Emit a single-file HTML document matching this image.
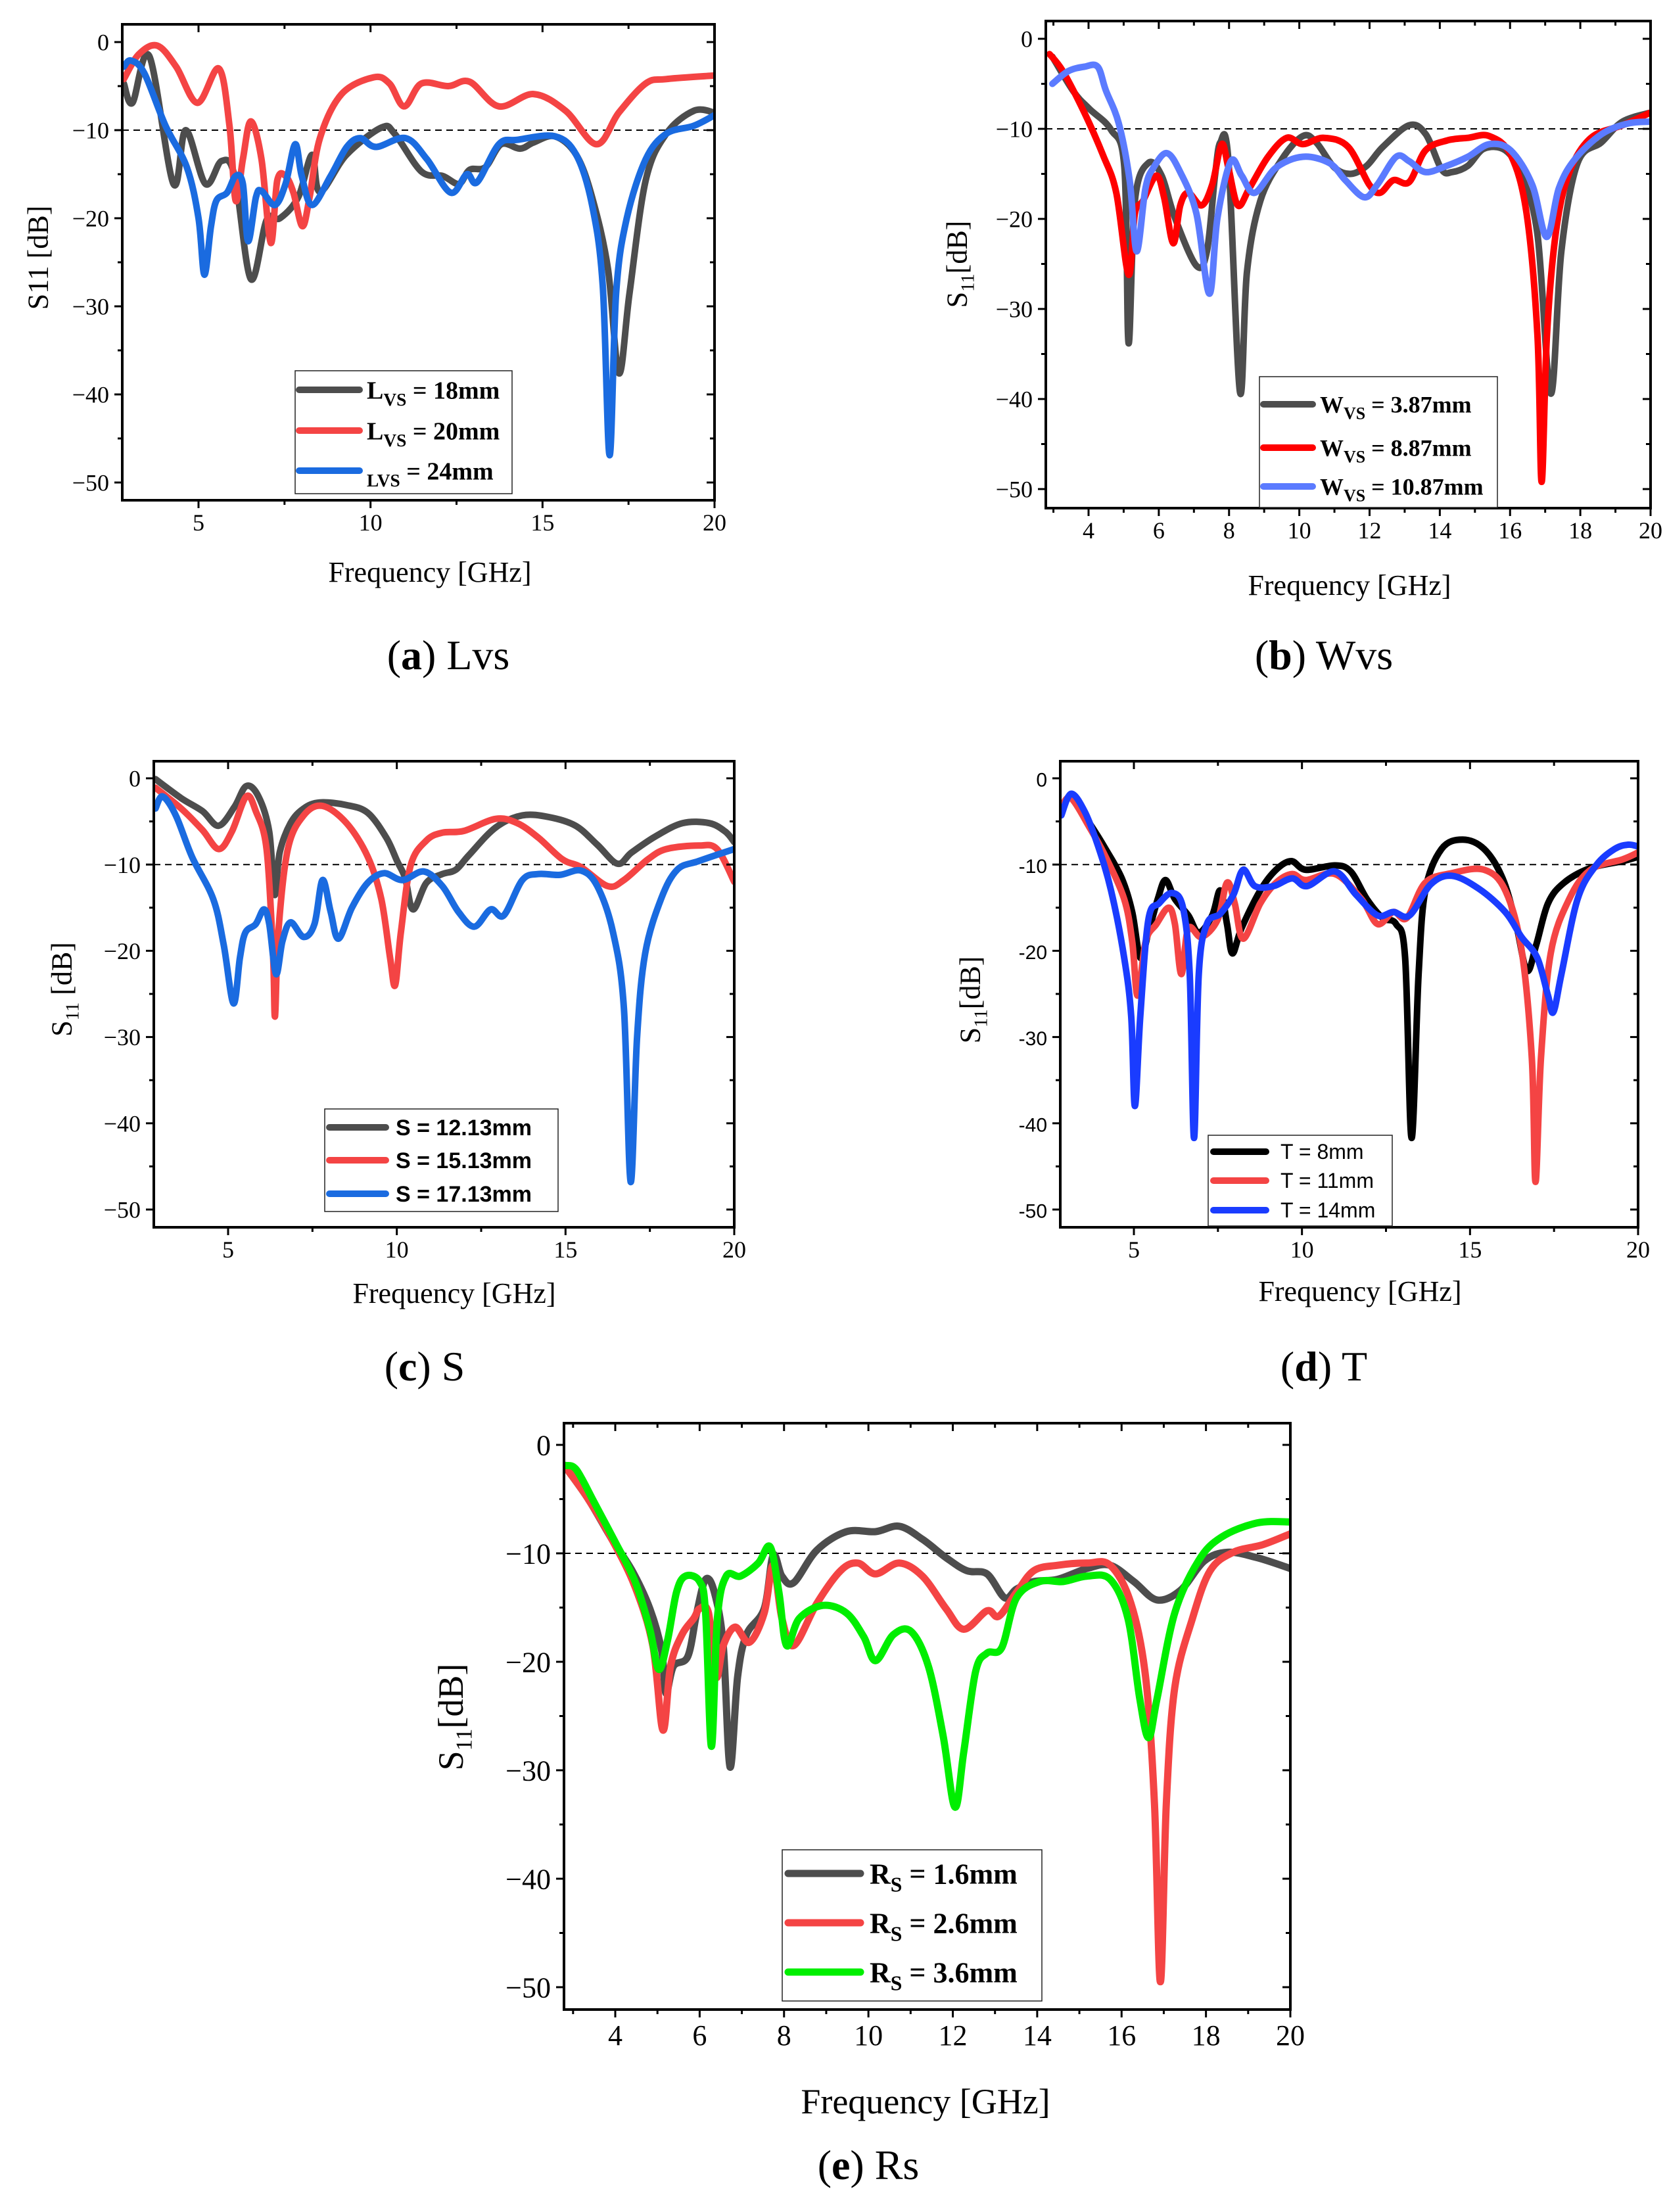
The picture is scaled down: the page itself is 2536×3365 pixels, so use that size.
<!DOCTYPE html>
<html><head><meta charset="utf-8"><style>
html,body{margin:0;padding:0;background:#fff}
svg{display:block}
</style></head><body>
<svg id="fig" xmlns="http://www.w3.org/2000/svg" width="2536" height="3365" viewBox="0 0 2536 3365">
<rect x="0" y="0" width="2536" height="3365" fill="#fff"/>
</svg>
<script>
// ---------- data (frequency GHz, S11 dB) ----------
const a_lvs18=[[2.83,-4.7],[3.08,-6.9],[3.57,-1.6],[4.27,-16.1],[4.63,-10],[5.2,-16.1],[5.67,-13.5],[6.05,-15.2],[6.52,-26.9],[6.98,-20.2],[7.37,-20],[7.9,-17.6],[8.3,-12.8],[8.53,-17],[9.3,-12.8],[10.32,-9.7],[10.7,-10.4],[11.48,-14.7],[12.1,-15.2],[12.57,-16.1],[12.88,-14.5],[13.34,-14.2],[13.8,-11.6],[14.35,-12.1],[14.74,-11.4],[15.36,-10.7],[15.98,-12.8],[16.44,-17.6],[16.9,-25.7],[17.22,-37.6],[17.53,-28.5],[18,-15.7],[18.6,-10.4],[19.4,-7.8],[20,-8]];
const a_lvs20=[[2.83,-4.2],[3.26,-1.4],[3.8,-0.4],[4.35,-2.8],[4.97,-6.9],[5.59,-3],[5.9,-9.5],[6.08,-18],[6.29,-13.3],[6.52,-9],[6.83,-13.3],[7.1,-22.8],[7.29,-15.7],[7.53,-15.2],[7.76,-17.1],[8.02,-20.9],[8.23,-17.6],[8.53,-10.9],[9.16,-5.9],[10.09,-4],[10.55,-4.7],[10.98,-7.3],[11.48,-4.7],[12.26,-5],[12.88,-4.5],[13.73,-7.3],[14.74,-5.9],[15.67,-7.8],[16.57,-11.6],[17.22,-8],[18,-4.7],[18.6,-4.2],[20,-3.8]];
const a_lvs24=[[2.83,-2.8],[3.03,-2.1],[3.42,-3.5],[4.04,-9.5],[4.66,-14.2],[5,-20],[5.17,-26.4],[5.36,-21],[5.52,-18],[5.83,-17.1],[6.08,-15.2],[6.29,-16.1],[6.44,-22.6],[6.67,-17.6],[6.83,-16.9],[7.22,-18.5],[7.53,-16.1],[7.81,-11.6],[8,-15.2],[8.3,-18.5],[8.84,-15.2],[9.31,-11.9],[9.7,-10.9],[10.16,-11.9],[11.02,-10.9],[11.64,-13.3],[12.33,-17.1],[12.8,-15],[13.1,-15.9],[13.73,-11.6],[14.27,-11.1],[15.36,-10.7],[15.98,-12.8],[16.44,-18.5],[16.75,-27.6],[16.95,-46.9],[17.14,-28.5],[17.45,-20],[18,-13.3],[18.6,-10.4],[19.4,-9.5],[20,-8.3]];
const b_wvs387=[[2.97,-2],[3.58,-5.9],[4.03,-7.8],[4.64,-10.1],[5.02,-14.3],[5.14,-33.8],[5.32,-18],[5.7,-13.8],[6.08,-15.2],[6.46,-19.9],[7.07,-25.2],[7.37,-23.6],[7.6,-15.2],[7.75,-11.5],[7.98,-13.4],[8.31,-39.2],[8.51,-25.9],[8.89,-18],[9.5,-13.4],[10.1,-10.8],[10.48,-11.5],[11.0,-14.3],[11.47,-15],[11.92,-14.1],[12.38,-12],[13.13,-9.6],[13.6,-10.6],[14.05,-14.5],[14.35,-14.8],[14.8,-14.1],[15.26,-12.2],[15.87,-12.4],[16.32,-15.2],[16.78,-21.7],[17.16,-39.4],[17.46,-23.6],[17.92,-13.8],[18.6,-11.5],[19.2,-9.2],[20,-8.2]];
const b_wvs887=[[2.89,-1.7],[3.27,-3.6],[3.88,-8.2],[4.41,-12.9],[4.79,-17.1],[5.14,-26.2],[5.32,-19.4],[5.55,-18],[5.93,-15.2],[6.15,-17.6],[6.41,-22.7],[6.61,-18.5],[6.84,-17.1],[7.22,-18.5],[7.52,-16.2],[7.79,-11.7],[7.98,-14.3],[8.25,-18.5],[8.58,-16.6],[9.11,-13.1],[9.64,-11],[10.1,-11.7],[10.7,-11],[11.39,-12],[11.99,-16.2],[12.3,-17.1],[12.68,-15.7],[13.13,-15.9],[13.59,-12.4],[14.2,-11.3],[14.8,-11],[15.41,-10.8],[16.02,-12.9],[16.47,-19.4],[16.78,-32.9],[16.9,-49.2],[17.05,-32.9],[17.31,-21.3],[17.69,-14.8],[18.3,-11],[19.2,-9.6],[20,-8.2]];
const b_wvs1087=[[2.97,-5],[3.42,-3.6],[3.88,-3.1],[4.26,-3.1],[4.49,-5.7],[4.86,-9.4],[5.17,-15.7],[5.37,-23.6],[5.62,-16.6],[5.85,-14.3],[6.23,-12.7],[6.61,-14.8],[7.07,-19.4],[7.44,-28.3],[7.67,-19.9],[8.05,-13.6],[8.36,-15.2],[8.73,-17.1],[9.34,-14.3],[10.1,-13.1],[10.86,-13.8],[11.31,-15.7],[11.85,-17.6],[12.22,-16.2],[12.76,-13.1],[13.13,-13.6],[13.59,-14.8],[14.2,-14.1],[14.8,-13.1],[15.41,-11.7],[16.02,-12.4],[16.63,-16.2],[17.04,-22],[17.39,-16.6],[17.84,-13.4],[18.6,-10.6],[19.36,-9.4],[20,-9.2]];
const c_s1213=[[2.85,-0.1],[3.61,-2.3],[4.24,-3.8],[4.72,-5.5],[5.19,-3.3],[5.54,-0.9],[5.9,-2.1],[6.22,-6.2],[6.38,-13.5],[6.53,-8.6],[6.85,-5.2],[7.24,-3.5],[7.72,-2.8],[8.51,-3.1],[9.14,-4],[9.69,-6.9],[10.01,-9.6],[10.25,-11.6],[10.48,-15.2],[10.88,-12.1],[11.35,-11.1],[11.75,-10.6],[12.14,-8.9],[12.93,-5.7],[13.72,-4.3],[14.51,-4.5],[15.3,-5.5],[15.94,-7.7],[16.54,-9.9],[16.96,-8.6],[17.68,-6.7],[18.47,-5.2],[19.26,-5.2],[19.74,-6.2],[20,-7.4]];
const c_s1513=[[2.85,-1.1],[3.61,-3.5],[4.24,-6],[4.72,-8.2],[5.11,-6.2],[5.54,-2.1],[5.82,-3.8],[6.14,-8.2],[6.33,-20.3],[6.39,-27.6],[6.49,-17.8],[6.77,-8.2],[7.24,-4.3],[7.8,-3.2],[8.51,-5.2],[9.14,-9.1],[9.54,-14],[9.8,-20.8],[9.95,-24],[10.12,-17.9],[10.41,-10.1],[10.88,-7.2],[11.35,-6.3],[11.99,-6.1],[12.93,-4.7],[13.57,-5.2],[14.2,-6.9],[14.91,-9.4],[15.46,-10.3],[16.25,-12.5],[16.73,-11.8],[17.44,-9.4],[17.99,-8.2],[18.94,-7.8],[19.49,-8.2],[20,-12]];
const c_s1713=[[2.85,-3.5],[3.06,-2.1],[3.45,-4.3],[3.93,-9.1],[4.56,-14],[4.87,-19.3],[5.16,-26.1],[5.35,-20.8],[5.51,-17.9],[5.82,-16.9],[6.06,-15.2],[6.22,-16.9],[6.42,-22.7],[6.61,-18.9],[6.85,-16.7],[7.24,-18.4],[7.56,-16.9],[7.8,-11.8],[8.04,-15.5],[8.27,-18.6],[8.67,-15],[9.14,-12.1],[9.62,-11],[10.17,-11.8],[10.8,-10.8],[11.35,-12.5],[11.83,-15.5],[12.3,-17.2],[12.78,-15.2],[13.17,-15.9],[13.72,-11.8],[14.2,-11.1],[14.83,-11.2],[15.46,-10.7],[15.94,-12.5],[16.41,-17.9],[16.73,-26.6],[16.93,-46.8],[17.12,-30],[17.36,-20.3],[17.83,-14],[18.31,-10.6],[18.94,-9.6],[20,-8.2]];
const d_t8=[[2.84,-3.8],[3.13,-2.1],[3.68,-5.2],[4.16,-8.2],[4.64,-11.6],[4.95,-15.5],[5.19,-20.8],[5.43,-17.9],[5.71,-14],[5.94,-11.8],[6.22,-14],[6.62,-15.9],[6.93,-17.9],[7.33,-15.9],[7.57,-13],[7.77,-16.9],[7.93,-20.3],[8.2,-17.4],[8.76,-13],[9.23,-10.6],[9.68,-9.6],[10.11,-10.6],[10.98,-10.1],[11.45,-10.8],[11.93,-14],[12.4,-16.2],[12.8,-16.9],[13.07,-20.8],[13.26,-41.7],[13.47,-22.7],[13.67,-13],[14.15,-8.2],[14.78,-7.1],[15.42,-8.2],[15.97,-11.6],[16.37,-16.9],[16.69,-22.3],[16.97,-19.3],[17.32,-14.5],[17.8,-12.1],[18.59,-10.4],[19.54,-9.6],[20,-9.1]];
const d_t11=[[2.84,-3.3],[3.13,-2.3],[3.68,-5.7],[4.16,-9.1],[4.71,-14],[4.95,-18.9],[5.11,-25.2],[5.35,-18.9],[5.67,-16.9],[6.03,-15],[6.22,-16.9],[6.41,-22.7],[6.62,-17.4],[7.01,-18.4],[7.49,-16.4],[7.77,-12.1],[8,-14.5],[8.25,-18.6],[8.76,-14.5],[9.23,-12.1],[9.71,-11.1],[10.11,-11.8],[10.98,-11.1],[11.77,-14],[12.25,-16.9],[12.72,-15.5],[13.12,-16.2],[13.67,-12.1],[14.46,-11],[15.42,-10.6],[16.05,-13],[16.53,-19.8],[16.84,-32.5],[16.95,-46.8],[17.11,-32.5],[17.4,-20.3],[17.95,-14],[18.59,-10.6],[19.54,-9.4],[20,-8.6]];
const d_t14=[[2.84,-4.3],[3.13,-1.8],[3.53,-3.8],[3.92,-7.7],[4.32,-13],[4.71,-20.8],[4.92,-27.6],[5.03,-38],[5.19,-27.6],[5.43,-16.4],[5.75,-14.5],[6.14,-13.3],[6.46,-15],[6.66,-22.7],[6.79,-41.7],[6.93,-22.7],[7.17,-16.9],[7.57,-15.7],[7.96,-13.5],[8.25,-10.6],[8.6,-12.5],[9.15,-12.5],[9.71,-11.6],[10.15,-12.5],[10.98,-10.8],[11.61,-13.5],[12.25,-15.9],[12.72,-15.5],[13.2,-15.9],[13.83,-12.3],[14.46,-11.3],[15.26,-12.8],[16.05,-15.5],[16.53,-18.4],[17,-20.8],[17.32,-25.2],[17.48,-27.1],[17.72,-22.7],[18.2,-14],[18.75,-10.1],[19.3,-8.2],[19.7,-7.7],[20,-7.9]];
const e_rs16=[[2.83,-2.1],[3.36,-5],[3.92,-8.7],[4.4,-11.6],[4.82,-15.1],[5.1,-19],[5.2,-22.9],[5.38,-20.4],[5.72,-19.5],[5.93,-15.5],[6.14,-12.4],[6.35,-13.6],[6.56,-18.5],[6.72,-29.7],[6.9,-21.4],[7.11,-17.5],[7.53,-15.1],[7.74,-10.2],[7.95,-12.1],[8.23,-12.7],[8.78,-9.7],[9.48,-8],[10.17,-8],[10.73,-7.5],[11.28,-8.7],[11.84,-10.4],[12.33,-11.6],[12.81,-11.9],[13.23,-14.1],[13.51,-13.3],[13.92,-12.6],[14.48,-12.4],[15.18,-11.4],[15.73,-11.1],[16.29,-12.6],[16.84,-14.3],[17.4,-13.4],[17.96,-10.7],[18.51,-9.9],[19.21,-10.4],[20,-11.4]];
const e_rs26=[[2.83,-2.1],[3.36,-5],[3.92,-8.7],[4.47,-13.1],[4.89,-18.5],[5.13,-26.3],[5.31,-20.4],[5.58,-17.5],[5.86,-16],[6,-15.1],[6.21,-15.5],[6.39,-21.4],[6.56,-18.5],[6.84,-16.8],[7.18,-18.2],[7.53,-15.5],[7.74,-11.1],[7.95,-16],[8.23,-18.5],[8.78,-14.6],[9.34,-11.6],[9.75,-10.9],[10.17,-11.9],[10.73,-10.9],[11.28,-12.1],[11.84,-15.1],[12.26,-17],[12.81,-15.3],[13.09,-15.8],[13.51,-13.6],[13.92,-11.6],[14.48,-11.1],[15.18,-10.9],[15.73,-11.1],[16.22,-14.6],[16.57,-21.4],[16.78,-33.1],[16.92,-49.5],[17.06,-33.1],[17.26,-22.4],[17.68,-16],[18.1,-11.6],[18.65,-9.9],[19.35,-9.2],[20,-8.2]];
const e_rs36=[[2.83,-1.9],[3.08,-2.3],[3.5,-5.3],[3.99,-8.9],[4.47,-12.6],[4.82,-17],[5.03,-20.7],[5.24,-18],[5.45,-13.6],[5.66,-12.1],[6,-12.6],[6.14,-15.5],[6.28,-27.8],[6.42,-16],[6.63,-12.1],[6.97,-12.1],[7.39,-10.9],[7.67,-9.4],[7.88,-13.6],[8.06,-18.5],[8.36,-16],[8.92,-14.8],[9.48,-15.5],[9.89,-17.7],[10.17,-19.9],[10.59,-17.5],[11.01,-17.2],[11.42,-20.4],[11.77,-26.8],[12.05,-33.4],[12.26,-28.3],[12.54,-20.9],[12.81,-19.2],[13.16,-18.7],[13.51,-14.1],[14.06,-12.6],[14.62,-12.6],[15.18,-12.1],[15.73,-12.4],[16.15,-16],[16.43,-23.4],[16.64,-27],[16.84,-23.4],[17.26,-15.5],[17.82,-10.7],[18.37,-8.5],[19.21,-7.2],[20,-7.1]];
const yTickVals=[0,-10,-20,-30,-40,-50];
const xTicks5=[5,10,15,20];
const xTicks2=[4,6,8,10,12,14,16,18,20];

const NS='http://www.w3.org/2000/svg';
const svg=document.getElementById('fig');
function mk(tag,attrs,parent){const e=document.createElementNS(NS,tag);for(const k in attrs)e.setAttribute(k,attrs[k]);(parent||svg).appendChild(e);return e;}

const panels=[
 {id:'a',box:[186,37,1087,761],fx:[5,302,20,1087],yp:[64,734],xt:xTicks5,minorStep:2.5,serif:true,tick:36,ylab:['S11 [dB]',null],ylx:57,yly:392,xlx:654,xly:885,xls:44,
  series:[[a_lvs18,'#4d4d4d'],[a_lvs20,'#f44444'],[a_lvs24,'#1a6be0']],
  leg:{box:[449,564,779,751],ys:[593,655,716],lx:[450,552],tx:558,fs:38,bold:true,serif:true,labels:[['L','VS',' = 18mm'],['L','VS',' = 20mm'],['','LVS',' = 24mm']]},
  cap:['a','Lvs',682,1018]},
 {id:'b',box:[1591,32,2511,773],fx:[4,1656,20,2511],yp:[59,744],xt:xTicks2,minorStep:1,serif:true,tick:36,ylab:['S','11','[dB]'],ylx:1455,yly:402,xlx:2053,xly:905,xls:44,
  series:[[b_wvs387,'#4d4d4d'],[b_wvs887,'#ff0000'],[b_wvs1087,'#5b7bff']],
  leg:{box:[1916,573,2278,772],ys:[615,681,740],lx:[1917,2002],tx:2008,fs:36,bold:true,serif:true,labels:[['W','VS',' = 3.87mm'],['W','VS',' = 8.87mm'],['W','VS',' = 10.87mm']]},
  cap:['b','Wvs',2014,1018]},
 {id:'c',box:[234,1158,1117,1867],fx:[5,347,20,1117],yp:[1184,1840],xt:xTicks5,minorStep:2.5,serif:true,tick:36,ylab:['S','11',' [dB]'],ylx:93,yly:1505,xlx:691,xly:1982,xls:44,
  series:[[c_s1213,'#4d4d4d'],[c_s1513,'#f44444'],[c_s1713,'#1a6be0']],
  leg:{box:[494,1687,849,1843],ys:[1715,1765,1816],lx:[496,592],tx:602,fs:34,bold:true,serif:false,labels:[['S = 12.13mm'],['S = 15.13mm'],['S = 17.13mm']]},
  cap:['c','S',646,2100]},
 {id:'d',box:[1613,1158,2492,1867],fx:[5,1725,20,2492],yp:[1184,1840],xt:xTicks5,minorStep:2.5,serif:true,tick:36,ytickSans:true,ylab:['S','11','[dB]'],ylx:1475,yly:1521,xlx:2069,xly:1979,xls:44,
  series:[[d_t8,'#000000'],[d_t11,'#f44444'],[d_t14,'#1a3cff']],
  leg:{box:[1838,1727,2118,1865],ys:[1752,1796,1841],lx:[1841,1931],tx:1948,fs:32,bold:false,serif:false,labels:[['T = 8mm'],['T = 11mm'],['T = 14mm']]},
  cap:['d','T',2014,2100]},
 {id:'e',box:[858,2165,1963,3057],fx:[4,936,20,1963],yp:[2198,3023],xt:xTicks2,minorStep:1,serif:true,tick:44,ylab:['S','11','[dB]'],ylx:685,yly:2612,xlx:1408,xly:3215,xls:54,lw:11,
  series:[[e_rs16,'#4d4d4d'],[e_rs26,'#f44444'],[e_rs36,'#00ee00']],
  leg:{box:[1190,2814,1585,3044],ys:[2850,2925,3000],lx:[1194,1314],tx:1323,fs:44,bold:true,serif:true,labels:[['R','S',' = 1.6mm'],['R','S',' = 2.6mm'],['R','S',' = 3.6mm']]},
  cap:['e','Rs',1321,3315]}
];
const SERIF='"Liberation Serif", serif', SANS='"Liberation Sans", sans-serif';

function catmull(pts){
  let d='M'+pts[0][0].toFixed(1)+','+pts[0][1].toFixed(1);
  for(let i=0;i<pts.length-1;i++){
    const p0=pts[Math.max(0,i-1)],p1=pts[i],p2=pts[i+1],p3=pts[Math.min(pts.length-1,i+2)];
    const c1=[p1[0]+(p2[0]-p0[0])/6,p1[1]+(p2[1]-p0[1])/6];
    const c2=[p2[0]-(p3[0]-p1[0])/6,p2[1]-(p3[1]-p1[1])/6];
    d+='C'+c1[0].toFixed(1)+','+c1[1].toFixed(1)+' '+c2[0].toFixed(1)+','+c2[1].toFixed(1)+' '+p2[0].toFixed(1)+','+p2[1].toFixed(1);
  }
  return d;
}

panels.forEach(p=>{
  const [L,T,R,B]=p.box;
  const sx=(p.fx[3]-p.fx[1])/(p.fx[2]-p.fx[0]);
  const X=f=>p.fx[1]+(f-p.fx[0])*sx;
  const Y=v=>p.yp[0]+(v/-50)*(p.yp[1]-p.yp[0]);
  const g=mk('g',{});
  
  
  const cid='clip-'+p.id;
  const cp=mk('clipPath',{id:cid},g);mk('rect',{x:L,y:T,width:R-L,height:B-T},cp);
  // dashed -10 line
  const dl=mk('line',{x1:L,x2:R,y1:Y(-10),y2:Y(-10),stroke:'#000','stroke-width':2,'stroke-dasharray':'10,7'},g);
  
  
  // series
  const lw=p.lw||10;
  p.series.forEach((s,i)=>{
    const pts=s[0].map(q=>[X(q[0]),Y(q[1])]);
    const path=mk('path',{d:catmull(pts),fill:'none',stroke:s[1],'stroke-width':lw,'stroke-linejoin':'round','stroke-linecap':'round','clip-path':'url(#'+cid+')'},g);
    
    
  });
  // frame
  const fr=mk('rect',{x:L,y:T,width:R-L,height:B-T,fill:'none',stroke:'#000','stroke-width':4},g);
  
  
  // y ticks
  yTickVals.forEach(v=>{
    const y=Y(v);
    mk('line',{x1:L-12,x2:L,y1:y,y2:y,stroke:'#000','stroke-width':3},g);
    mk('line',{x1:R-12,x2:R,y1:y,y2:y,stroke:'#000','stroke-width':3},g);
    const lab=p.ytickSans?String(v):(v<0?'\u2212'+(-v):String(v));
    const t=mk('text',{x:L-20,y:y+p.tick*0.35,'text-anchor':'end','font-family':p.ytickSans?SANS:SERIF,'font-size':p.ytickSans?30:p.tick,fill:'#000'},g);
    t.textContent=lab;
    
    
    if(v>-50){const ym=Y(v-5);mk('line',{x1:L-7,x2:L,y1:ym,y2:ym,stroke:'#000','stroke-width':3},g);mk('line',{x1:R-7,x2:R,y1:ym,y2:ym,stroke:'#000','stroke-width':3},g);}
  });
  // x ticks
  p.xt.forEach(f=>{
    const x=X(f);
    mk('line',{x1:x,x2:x,y1:B,y2:B+12,stroke:'#000','stroke-width':3},g);
    mk('line',{x1:x,x2:x,y1:T,y2:T+12,stroke:'#000','stroke-width':3},g);
    const t=mk('text',{x:x,y:B+12+p.tick*0.95,'text-anchor':'middle','font-family':SERIF,'font-size':p.tick,fill:'#000'},g);
    t.textContent=String(f);
    
    
    const xm=X(f-p.minorStep/ (p.minorStep===1?1:1) + 0);
    const mx=X(f-p.minorStep);
    if(mx>=L){mk('line',{x1:mx,x2:mx,y1:B,y2:B+7,stroke:'#000','stroke-width':3},g);mk('line',{x1:mx,x2:mx,y1:T,y2:T+7,stroke:'#000','stroke-width':3},g);}
  });
  // x label
  const xl=mk('text',{x:p.xlx,y:p.xly,'text-anchor':'middle','font-family':SERIF,'font-size':p.xls,fill:'#000'},g);
  xl.textContent='Frequency [GHz]';
  
  
  // y label
  const ys=p.xls;
  const yl=mk('text',{x:0,y:0,'text-anchor':'middle','font-family':SERIF,'font-size':ys,fill:'#000',transform:'translate('+(p.ylx+ys*0.35)+','+p.yly+') rotate(-90)'},g);
  
  
  if(p.ylab[1]===null){yl.textContent=p.ylab[0];}
  else{
    const t1=mk('tspan',{},yl);t1.textContent=p.ylab[0];
    const t2=mk('tspan',{'font-size':ys*0.65,dy:ys*0.25},yl);t2.textContent=p.ylab[1];
    const t3=mk('tspan',{dy:-ys*0.25},yl);t3.textContent=p.ylab[2];
  }
  // legend
  const lg=p.leg;
  const lgG=mk('g',{},g);
  
  
  mk('rect',{x:lg.box[0],y:lg.box[1],width:lg.box[2]-lg.box[0],height:lg.box[3]-lg.box[1],fill:'#fff',stroke:'#222','stroke-width':1.5},lgG);
  lg.labels.forEach((lab,i)=>{
    const y=lg.ys[i];
    const ln=mk('line',{x1:lg.lx[0]+5,x2:lg.lx[1]-5,y1:y,y2:y,stroke:p.series[i][1],'stroke-width':lw,'stroke-linecap':'round'},lgG);
    
    
    const t=mk('text',{x:lg.tx,y:y+lg.fs*0.35,'font-family':lg.serif?SERIF:SANS,'font-size':lg.fs,'font-weight':lg.bold?'bold':'normal',fill:'#000'},lgG);
    
    
    if(lab.length===1){t.textContent=lab[0];}
    else{
      if(lab[0]){const a=mk('tspan',{},t);a.textContent=lab[0];}
      const b=mk('tspan',{'font-size':lg.fs*0.72,dy:lg.fs*0.28},t);b.textContent=lab[1];
      const c=mk('tspan',{dy:-lg.fs*0.28},t);c.textContent=lab[2];
    }
  });
  // caption
  const cap=mk('text',{x:p.cap[2],y:p.cap[3],'text-anchor':'middle','font-family':SERIF,'font-size':64,fill:'#000'},g);
  
  
  const c1=mk('tspan',{},cap);c1.textContent='(';
  const c2=mk('tspan',{'font-weight':'bold'},cap);c2.textContent=p.cap[0];
  const c3=mk('tspan',{},cap);c3.textContent=') '+p.cap[1];
});
</script>
</body></html>
